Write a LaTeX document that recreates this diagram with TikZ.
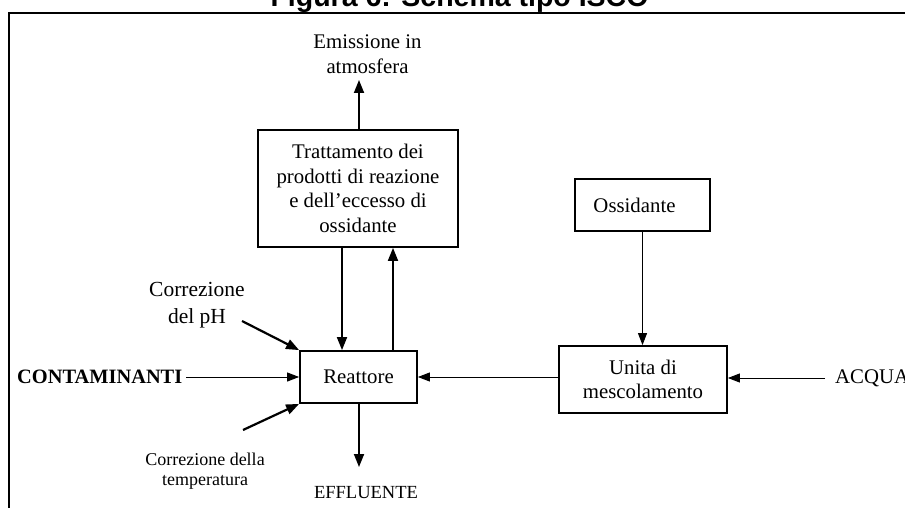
\documentclass[tikz,border=0pt]{standalone}
\usepackage{fontspec}
\setmainfont{Liberation Serif}
\newfontfamily\titlefont{Liberation Sans}
\usetikzlibrary{arrows.meta}
\tikzset{
  box/.style={draw, line width=1.8pt, inner sep=0pt, align=center, font=\fontsize{20.8}{24.5}\selectfont},
  lbl/.style={inner sep=0pt, align=center, font=\fontsize{20.8}{25}\selectfont},
  thickarr/.style={line width=1.8pt, -{Triangle[length=13pt,width=10pt]}},
  thinarr/.style={line width=1pt, -{Triangle[length=12pt,width=9pt]}},
}
\begin{document}
\begin{tikzpicture}[x=1pt,y=-1pt]
\useasboundingbox (0,0) rectangle (905,508);
\clip (0,0) rectangle (905,508);
% frame (cut off at right and bottom)
\draw[line width=1.8pt] (9,530) -- (9,12.8) -- (930,12.8);
\node[anchor=base, inner sep=0pt, font=\titlefont\bfseries\fontsize{28.5}{30}\selectfont] (title) at (459.5,7) {Figura 6: Schema tipo ISCO};

% boxes
\node[box, minimum width=200pt, minimum height=117pt] (T) at (358,188.5) {Trattamento dei\\prodotti di reazione\\e dell'eccesso di\\ossidante};
\node[box, minimum width=135pt, minimum height=52pt] (O) at (642.5,205) {Ossidante\hspace*{16pt}};
\node[box, minimum width=168pt, minimum height=67pt] (U) at (643,379.5) {Unita di\\mescolamento};
\node[box, minimum width=117pt, minimum height=52pt] (R) at (358.5,377) {Reattore};

% labels
\node[lbl] (emis) at (367.5,54) {Emissione in\\atmosfera};
\node[lbl, font=\fontsize{21.5}{27}\selectfont] (ph) at (197,305) {Correzione\\del pH};
\node[lbl, font=\fontsize{18}{20.5}\selectfont] (temp) at (205,471) {Correzione della\\temperatura};
\node[anchor=west, inner sep=0pt, font=\bfseries\fontsize{20.4}{24}\selectfont] (cont) at (17,377) {CONTAMINANTI};
\node[lbl, font=\fontsize{18.5}{22}\selectfont] (eff) at (366,493) {EFFLUENTE};
\node[lbl, anchor=west] (acq) at (835,378) {ACQUA};

% helper coordinates
\coordinate (emtip) at (359,80);
\coordinate (dx) at (342,0);
\coordinate (ux) at (393,0);
\coordinate (phs) at (242,321);
\coordinate (tps) at (243,430);
\coordinate (efftip) at (359,467);

% connectors
\draw[thickarr] (emtip |- T.north) -- (emtip);
\draw[thickarr] (T.south -| dx) -- (R.north -| dx);
\draw[thickarr] (R.north -| ux) -- (T.south -| ux);
\draw[thickarr, line width=2.2pt] (phs) -- (R.north west);
\draw[thickarr, line width=2.2pt] (tps) -- (R.south west);
\draw[thickarr] (R.south -| efftip) -- (efftip);
\draw[thinarr] ([xshift=4pt]cont.east) -- (R.west |- cont.east);
\draw[thinarr] (U.west |- R.east) -- (R.east);
\draw[thinarr] ([xshift=-10pt]acq.west) -- (U.east |- acq.west);
\draw[thinarr] (O.south) -- (U.north -| O.south);
\end{tikzpicture}
\end{document}
